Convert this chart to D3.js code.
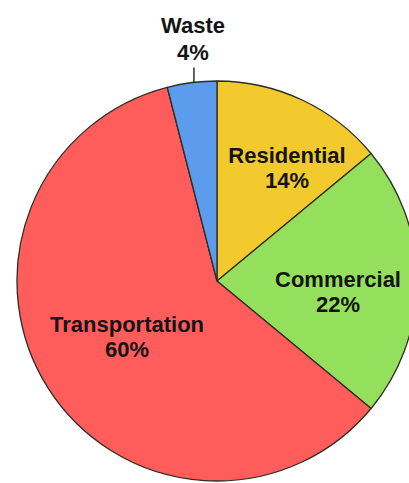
<!DOCTYPE html>
<html>
<head>
<meta charset="utf-8">
<script src="https://cdn.jsdelivr.net/npm/d3@7"></script>
<style>
  html, body { margin: 0; padding: 0; background: #fff; }
  svg { display: block; }
</style>
</head>
<body>
<svg id="chart" width="409" height="483"></svg>
<script>
// Emission shares by sector, clockwise from 12 o'clock
const categories = ["Residential", "Commercial", "Transportation", "Waste"];
const shares = [14, 22, 60, 4];
const colors = ["#F2CA2E", "#94E05C", "#FF5C5C", "#5C9CEC"];

const width = 409, height = 483;
const cx = 217, cy = 281, radius = 200;

// Label anchors (centre of the first text line, baseline) relative to the pie centre
const labelPos = {
  Residential:    [70, -118],
  Commercial:     [121, 6],
  Transportation: [-90, 51],
  Waste:          [-24, -248]
};

const svg = d3.select("#chart");
const g = svg.append("g").attr("transform", `translate(${cx},${cy})`);

const data = categories.map((c, i) => ({ name: c, value: shares[i], color: colors[i] }));

const pie = d3.pie().sort(null).value(d => d.value).startAngle(0).endAngle(2 * Math.PI);
const arc = d3.arc().innerRadius(0).outerRadius(radius);

const arcs = pie(data);

g.selectAll("path.slice")
  .data(arcs)
  .join("path")
  .attr("class", "slice")
  .attr("d", arc)
  .attr("fill", d => d.data.color)
  .attr("stroke", "#2e2e22")
  .attr("stroke-width", 1.3)
  .attr("stroke-linejoin", "round");

// Leader line for the small Waste slice
const waste = arcs.find(a => a.data.name === "Waste");
const mid = (waste.startAngle + waste.endAngle) / 2;
const edgeX = Math.sin(mid) * radius + 2;
const edgeY = -Math.cos(mid) * radius;
g.append("line")
  .attr("x1", edgeX).attr("x2", edgeX)
  .attr("y1", edgeY).attr("y2", edgeY - 15)
  .attr("stroke", "#111")
  .attr("stroke-width", 1.3);

const labels = g.selectAll("text.label")
  .data(arcs)
  .join("text")
  .attr("class", "label")
  .attr("text-anchor", "middle")
  .attr("font-family", "Arial, 'Liberation Sans', sans-serif")
  .attr("font-weight", "bold")
  .attr("font-size", 22)
  .attr("fill", "#141414")
  .attr("transform", d => `translate(${labelPos[d.data.name][0]},${labelPos[d.data.name][1]})`);

labels.append("tspan")
  .attr("x", 0).attr("y", 0)
  .text(d => d.data.name);
labels.append("tspan")
  .attr("x", 0).attr("dy", d => d.data.name === "Waste" ? 27 : 25)
  .text(d => d.data.value + "%");
</script>
</body>
</html>
